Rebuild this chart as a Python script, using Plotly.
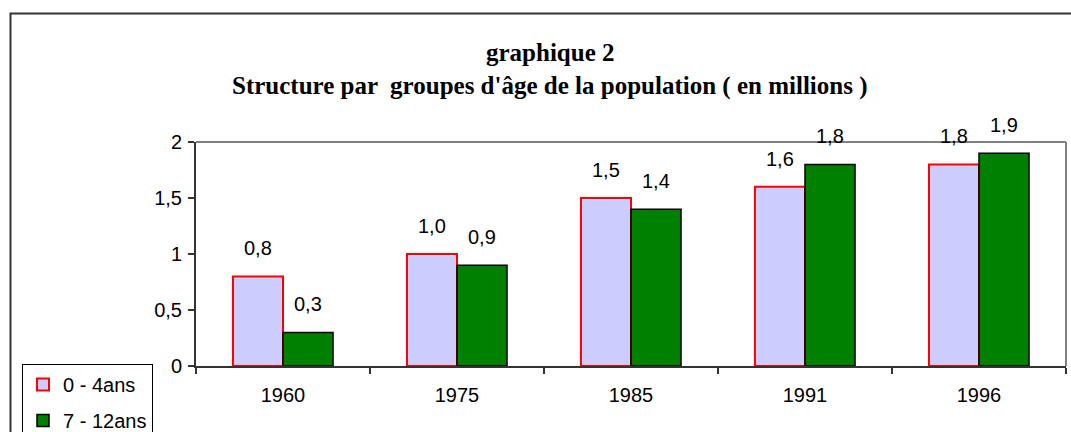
import plotly.graph_objects as go

years = ["1960", "1975", "1985", "1991", "1996"]
s1_name = "0 - 4ans"
s1_vals = [0.8, 1.0, 1.5, 1.6, 1.8]
s2_name = "7 - 12ans"
s2_vals = [0.3, 0.9, 1.4, 1.8, 1.9]
y_tickvals = [0, 0.5, 1, 1.5, 2]
y_ticktext = ["0", "0,5", "1", "1,5", "2"]
title_line1 = "graphique 2"
title_line2 = "Structure par  groupes d'âge de la population ( en millions )"

W, H = 1071, 432
L, R, T, B = 196, 1066, 142, 366


def px_x(x):
    return (x - L) / (R - L)


def px_y(y):
    return (B - y) / (B - T)


def fmt(v):
    return f"{v:.1f}".replace(".", ",")


fig = go.Figure()
fig.add_trace(go.Bar(
    x=years, y=s1_vals, name=s1_name, legendgroup="a",
    marker=dict(color="#CCCCFF", line=dict(color="#FF0000", width=2)),
))
fig.add_trace(go.Bar(
    x=years, y=s2_vals, name=s2_name, legendgroup="b",
    marker=dict(color="#008000", line=dict(color="#000000", width=1.5)),
))

font_sans = "Liberation Sans, Arial, sans-serif"
annotations = []
for xs, vals in ((-25, s1_vals), (25, s2_vals)):
    for i, v in enumerate(vals):
        annotations.append(dict(
            x=i, y=v, xref="x", yref="y", text=fmt(v), showarrow=False,
            xshift=xs, yshift=28, font=dict(family=font_sans, size=20, color="#000"),
        ))

font_title = dict(family="Liberation Serif, Times New Roman, serif", size=25, color="#000")
annotations.append(dict(x=px_x(550), y=px_y(52), xref="paper", yref="paper",
                        text="<b>" + title_line1 + "</b>", showarrow=False,
                        xanchor="center", yanchor="middle", font=font_title))
annotations.append(dict(x=px_x(550), y=px_y(86), xref="paper", yref="paper",
                        text="<b>" + title_line2 + "</b>", showarrow=False,
                        xanchor="center", yanchor="middle", font=font_title))

shapes = [
    dict(type="rect", xref="paper", yref="paper",
         x0=px_x(10.5), x1=px_x(1090), y0=px_y(450), y1=px_y(13.5),
         line=dict(color="#333333", width=2), fillcolor="rgba(0,0,0,0)", layer="below"),
    dict(type="line", xref="paper", yref="paper", x0=0, x1=1, y0=1, y1=1,
         line=dict(color="#808080", width=2)),
    dict(type="line", xref="paper", yref="paper", x0=1, x1=1, y0=0, y1=1,
         line=dict(color="#808080", width=2)),
]

fig.update_layout(
    width=W, height=H,
    margin=dict(l=L, r=W - R, t=T, b=H - B, pad=0, autoexpand=False),
    paper_bgcolor="white", plot_bgcolor="white",
    barmode="group", bargap=0.425, bargroupgap=0,
    showlegend=True,
    legend=dict(
        x=px_x(22), y=px_y(364), xanchor="left", yanchor="top",
        bordercolor="#000000", borderwidth=1, bgcolor="white",
        font=dict(family=font_sans, size=20, color="#000"),
        traceorder="grouped", tracegroupgap=7, itemwidth=30,
    ),
    annotations=annotations,
    shapes=shapes,
    xaxis=dict(
        type="category", range=[-0.5, len(years) - 0.5],
        showgrid=False, zeroline=False,
        showline=True, linecolor="#333333", linewidth=2,
        ticks="outside", ticklen=6, tickcolor="#333333", tickwidth=1.5,
        tickson="boundaries", ticklabelstandoff=10, tickangle=0,
        tickfont=dict(family=font_sans, size=20, color="#000"),
    ),
    yaxis=dict(
        range=[0, 2], showgrid=False, zeroline=False,
        showline=True, linecolor="#333333", linewidth=2,
        ticks="outside", ticklen=6, tickcolor="#333333", tickwidth=1.5,
        tickvals=y_tickvals, ticktext=y_ticktext, ticklabelstandoff=2,
        tickfont=dict(family=font_sans, size=20, color="#000"),
    ),
)

fig.write_html(
    "out.html",
    config={"displayModeBar": False},
    post_script="document.body.style.margin='0';document.body.style.overflow='hidden';",
)
